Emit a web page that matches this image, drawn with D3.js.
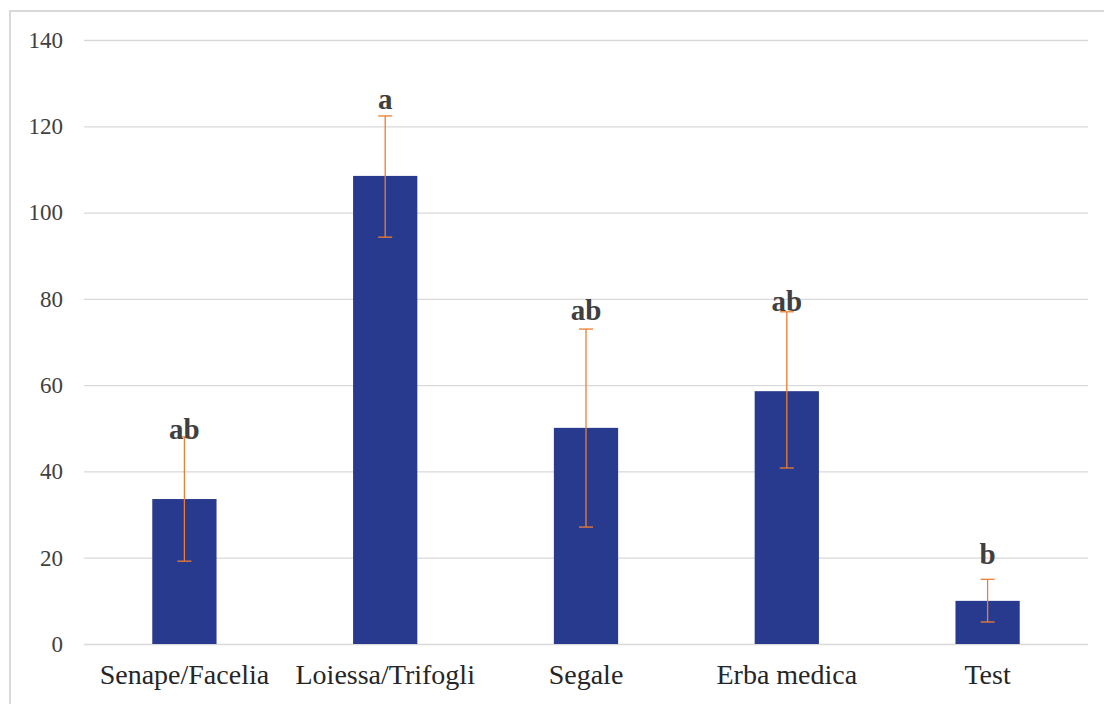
<!DOCTYPE html>
<html>
<head>
<meta charset="utf-8">
<script src="https://cdn.jsdelivr.net/npm/d3@7"></script>
<style>
  html, body { margin: 0; padding: 0; background: #fff; }
  svg { display: block; }
</style>
</head>
<body>
<svg id="chart" width="1104" height="704"></svg>
<script>
// Treatments and their means with error ranges
const categories = ["Senape/Facelia", "Loiessa/Trifogli", "Segale", "Erba medica", "Test"];
const means = [33.6, 108.5, 50.1, 58.6, 10.0];
const errLow = [19.2, 94.3, 27.1, 40.8, 5.1];
const errHigh = [48.0, 122.4, 73.0, 77.0, 15.0];
// Significance letters and the value at which each one sits
const letters = ["ab", "a", "ab", "ab", "b"];
const letterAt = [47.6, 124.0, 75.0, 77.2, 18.6];
const yTicks = [0, 20, 40, 60, 80, 100, 120, 140];

const svg = d3.select("#chart");
const plotLeft = 84, plotRight = 1088, plotTop = 40, plotBottom = 644;
const serif = "Liberation Serif, Times New Roman, serif";

// Outer frame
svg.append("rect")
  .attr("x", 10).attr("y", 11)
  .attr("width", 1104).attr("height", 704)
  .attr("fill", "none").attr("stroke", "#d9d9d9").attr("stroke-width", 2);

const x = d3.scaleBand().domain(categories).range([plotLeft, plotRight]).paddingInner(0.68).paddingOuter(0.34);
const y = d3.scaleLinear().domain([0, 140]).range([plotBottom, plotTop]);

// Horizontal gridlines + tick labels
const yAxis = d3.axisLeft(y).tickValues(yTicks).tickSize(-(plotRight - plotLeft)).tickPadding(21);
const gy = svg.append("g").attr("transform", `translate(${plotLeft},0)`).call(yAxis);
gy.select(".domain").remove();
gy.selectAll(".tick line").attr("stroke", "#d9d9d9").attr("stroke-width", 1.3);
gy.selectAll(".tick text")
  .attr("font-family", serif)
  .attr("font-size", 23).attr("fill", "#404040");

// Bars
svg.append("g").selectAll("rect").data(categories).join("rect")
  .attr("x", d => x(d))
  .attr("width", x.bandwidth())
  .attr("y", (d, i) => y(means[i]))
  .attr("height", (d, i) => y(0) - y(means[i]))
  .attr("fill", "#283a8e");

// Error bars
const cap = 7;
const eg = svg.append("g").attr("stroke", "#ed7d31").attr("stroke-width", 1.3);
categories.forEach((c, i) => {
  const cx = x(c) + x.bandwidth() / 2;
  eg.append("line").attr("x1", cx).attr("x2", cx).attr("y1", y(errLow[i])).attr("y2", y(errHigh[i]));
  eg.append("line").attr("x1", cx - cap).attr("x2", cx + cap).attr("y1", y(errHigh[i])).attr("y2", y(errHigh[i]));
  eg.append("line").attr("x1", cx - cap).attr("x2", cx + cap).attr("y1", y(errLow[i])).attr("y2", y(errLow[i]));
});

// Significance letters
svg.append("g").selectAll("text").data(categories).join("text")
  .attr("x", d => x(d) + x.bandwidth() / 2)
  .attr("y", (d, i) => y(letterAt[i]))
  .attr("text-anchor", "middle")
  .attr("font-family", serif)
  .attr("font-weight", "bold")
  .attr("font-size", 29)
  .attr("fill", "#404040")
  .text((d, i) => letters[i]);

// Category labels
const xAxis = d3.axisBottom(x).tickSize(0).tickPadding(20);
const gx = svg.append("g").attr("transform", `translate(0,${plotBottom})`).call(xAxis);
gx.select(".domain").remove();
gx.selectAll(".tick text")
  .attr("font-family", serif)
  .attr("font-size", 28).attr("fill", "#262626");
</script>
</body>
</html>
